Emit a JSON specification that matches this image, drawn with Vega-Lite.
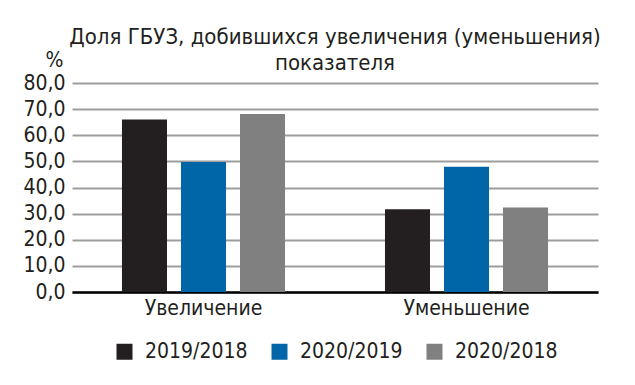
{
  "$schema": "https://vega.github.io/schema/vega-lite/v6.json",
  "autosize": "none",
  "width": 526,
  "height": 209,
  "padding": {"left": 72, "top": 83, "right": 37, "bottom": 93},
  "background": "white",
  "title": {
    "text": ["Доля ГБУЗ, добившихся увеличения (уменьшения)", "показателя"],
    "font": "DejaVu Sans Condensed",
    "fontSize": 22,
    "fontWeight": "normal",
    "color": "#231f20",
    "lineHeight": 26,
    "anchor": "middle",
    "frame": "group",
    "offset": -26
  },
  "data": {
    "values": [
      {"category": "Увеличение", "period": "2019/2018", "value": 66.0},
      {"category": "Увеличение", "period": "2020/2019", "value": 49.8},
      {"category": "Увеличение", "period": "2020/2018", "value": 68.1},
      {"category": "Уменьшение", "period": "2019/2018", "value": 31.7},
      {"category": "Уменьшение", "period": "2020/2019", "value": 47.9},
      {"category": "Уменьшение", "period": "2020/2018", "value": 32.3}
    ]
  },
  "mark": {"type": "bar"},
  "encoding": {
    "x": {
      "field": "category",
      "type": "nominal",
      "sort": ["Увеличение", "Уменьшение"],
      "scale": {"paddingInner": 0, "paddingOuter": 0},
      "axis": {
        "title": null,
        "labelAngle": 0,
        "labelFont": "DejaVu Sans Condensed",
        "labelFontSize": 21,
        "labelColor": "#231f20",
        "labelPadding": 5,
        "ticks": false,
        "domainColor": "#000000",
        "domainWidth": 2.5,
        "grid": false
      }
    },
    "xOffset": {
      "field": "period",
      "type": "nominal",
      "sort": ["2019/2018", "2020/2019", "2020/2018"],
      "scale": {"paddingInner": 0.237, "paddingOuter": 0.847}
    },
    "y": {
      "field": "value",
      "type": "quantitative",
      "scale": {"domain": [0, 80], "nice": false},
      "axis": {
        "title": "%",
        "titleAngle": 0,
        "titleAlign": "center",
        "titleBaseline": "alphabetic",
        "titleX": -18,
        "titleY": -17,
        "titleFont": "DejaVu Sans Condensed",
        "titleFontSize": 21,
        "titleFontWeight": "normal",
        "titleColor": "#231f20",
        "values": [0, 10, 20, 30, 40, 50, 60, 70, 80],
        "labelExpr": "replace(format(datum.value, '.1f'), '.', ',')",
        "labelFont": "DejaVu Sans Condensed",
        "labelFontSize": 21,
        "labelColor": "#231f20",
        "labelPadding": 7,
        "ticks": false,
        "domain": false,
        "grid": true,
        "gridColor": "#9d9d9d",
        "gridWidth": 2
      }
    },
    "color": {
      "field": "period",
      "type": "nominal",
      "sort": ["2019/2018", "2020/2019", "2020/2018"],
      "scale": {
        "domain": ["2019/2018", "2020/2019", "2020/2018"],
        "range": ["#231f20", "#0066a8", "#808080"]
      },
      "legend": {
        "title": null,
        "orient": "none",
        "legendX": 42,
        "legendY": 258,
        "direction": "horizontal",
        "symbolType": "square",
        "symbolSize": 256,
        "symbolStrokeWidth": 0,
        "labelFont": "DejaVu Sans Condensed",
        "labelFontSize": 21,
        "labelColor": "#231f20",
        "labelOffset": 10,
        "columnPadding": 21
      }
    }
  },
  "config": {
    "view": {"stroke": null}
  }
}
